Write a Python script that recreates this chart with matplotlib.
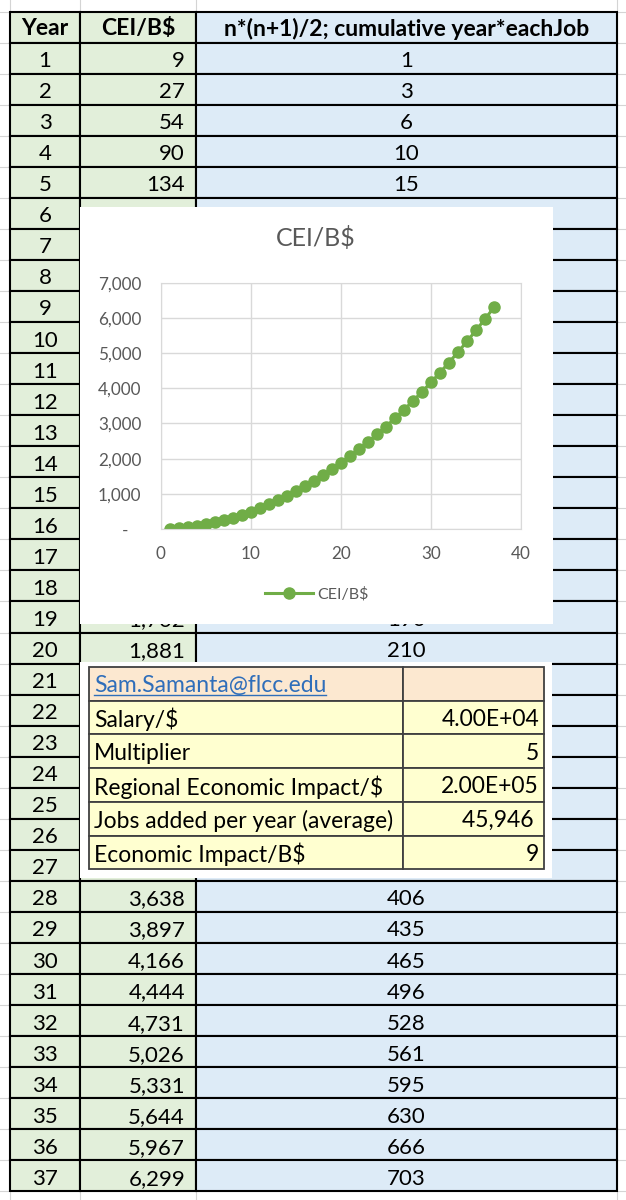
import matplotlib.pyplot as plt
from matplotlib.patches import Rectangle
from matplotlib.ticker import FuncFormatter, MultipleLocator

plt.rcParams['font.family'] = ['Lato', 'DejaVu Sans']

# spreadsheet data
years = list(range(1, 38))
cei = [9, 27, 54, 90, 134, 188, 251, 323, 403, 493, 591, 699, 815, 941, 1075,
       1219, 1371, 1532, 1702, 1881, 2070, 2267, 2473, 2688, 2912, 3145, 3387,
       3638, 3897, 4166, 4444, 4731, 5026, 5331, 5644, 5967, 6299]
cumul = [1, 3, 6, 10, 15, 21, 28, 36, 45, 55, 66, 78, 91, 105, 120, 136, 153,
         171, 190, 210, 231, 253, 276, 300, 325, 351, 378, 406, 435, 465, 496,
         528, 561, 595, 630, 666, 703]
headers = ['Year', 'CEI/B$', 'n*(n+1)/2; cumulative year*eachJob']

info_labels = ['Sam.Samanta@flcc.edu', 'Salary/$', 'Multiplier',
               'Regional Economic Impact/$', 'Jobs added per year (average)',
               'Economic Impact/B$']
info_values = ['', '4.00E+04', '5', '2.00E+05', '45,946 ', '9']

W, H = 626, 1200
fig = plt.figure(figsize=(W / 100, H / 100), dpi=100)
ax = fig.add_axes([0, 0, 1, 1])
ax.set_xlim(0, W)
ax.set_ylim(H, 0)
ax.axis('off')

top0, rh = 11.5, 31.05
cols = [10, 80, 196, 617]
green, blue = '#E2EFDA', '#DDEBF7'
nrows = len(years) + 1
fs = 16

# excel sheet grid behind
for i in range(-1, nrows + 2):
    ax.plot([0, W], [top0 + i * rh] * 2, color='#d4d4d4', lw=0.8, zorder=0)
for x in cols:
    ax.plot([x, x], [0, H], color='#d4d4d4', lw=0.8, zorder=0)

# cells
for i in range(nrows):
    y = top0 + i * rh
    for j, c in enumerate([green, green, blue]):
        ax.add_patch(Rectangle((cols[j], y), cols[j + 1] - cols[j], rh,
                               facecolor=c, edgecolor='black', lw=1.5, zorder=1))

ty = top0 + rh / 2 + 1.5
ax.text(45, ty, headers[0], ha='center', va='center', fontsize=16.5, fontweight='bold', zorder=2)
ax.text(138, ty, headers[1], ha='center', va='center', fontsize=16.5, fontweight='bold', zorder=2)
ax.text(406.5, ty, headers[2], ha='center', va='center', fontsize=16.5, fontweight='bold', zorder=2)
for k, (yr, v, c) in enumerate(zip(years, cei, cumul)):
    ty = top0 + (k + 1) * rh + rh / 2 + 3
    ax.text(45, ty, str(yr), ha='center', va='center', fontsize=fs, zorder=2)
    ax.text(185, ty, f'{v:,}', ha='right', va='center', fontsize=fs, zorder=2)
    ax.text(406.5, ty, str(c), ha='center', va='center', fontsize=fs, zorder=2)

# chart box
ax.add_patch(Rectangle((80, 207), 473, 417, facecolor='white', edgecolor='none', zorder=20))
ax.text(316, 238, 'CEI/B$', ha='center', va='center', fontsize=18, color='#595959', zorder=21)

ax2 = fig.add_axes([160.7 / W, 1 - 529 / H, (521 - 160.7) / W, (529 - 282.7) / H])
ax2.plot(years, cei, color='#70AD47', lw=2.2, marker='o', markersize=8,
         label='CEI/B$')
ax2.set_xlim(0, 40)
ax2.set_ylim(0, 7000)
ax2.xaxis.set_major_locator(MultipleLocator(10))
ax2.yaxis.set_major_locator(MultipleLocator(1000))
ax2.yaxis.set_major_formatter(FuncFormatter(lambda v, p: '-   ' if v == 0 else f'{int(v):,}'))
ax2.grid(True, color='#d9d9d9', lw=1)
ax2.set_axisbelow(True)
for s in ax2.spines.values():
    s.set_color('#d9d9d9')
ax2.tick_params(length=0, labelsize=12.3, labelcolor='#595959')
ax2.tick_params(axis='y', pad=14)
ax2.tick_params(axis='x', pad=12)
ax2.legend(loc='center', bbox_to_anchor=(317 / W, 1 - 594 / H),
           bbox_transform=fig.transFigure, frameon=False, fontsize=11.5,
           labelcolor='#595959', handlelength=3, handletextpad=0.3)

# info table overlay
ax.add_patch(Rectangle((80, 662), 472, 216, facecolor='white', edgecolor='none', zorder=30))
itop, irh = 667, 33.7
ix = [89, 403, 544]
for i, (lab, val) in enumerate(zip(info_labels, info_values)):
    y = itop + i * irh
    fc = '#FCE8D0' if i == 0 else '#FFFFD0'
    for j in range(2):
        ax.add_patch(Rectangle((ix[j], y), ix[j + 1] - ix[j], irh, facecolor=fc,
                               edgecolor='#404040', lw=1.3, zorder=31))
    ty = y + irh / 2 + 2
    if i == 0:
        t = ax.text(94, ty, lab, ha='left', va='center', fontsize=16.5, color='#2F6EBA', zorder=32)
    else:
        ax.text(94, ty, lab, ha='left', va='center', fontsize=16.5, zorder=32)
    ax.text(539, ty, val, ha='right', va='center', fontsize=16.5, zorder=32)

# underline for the e-mail link
fig.canvas.draw()
bb = t.get_window_extent().transformed(ax.transData.inverted())
ax.plot([bb.x0, bb.x1], [bb.y0 - 1, bb.y0 - 1], color='#2F6EBA', lw=1, zorder=33)

fig.savefig('out.png', dpi=100)
